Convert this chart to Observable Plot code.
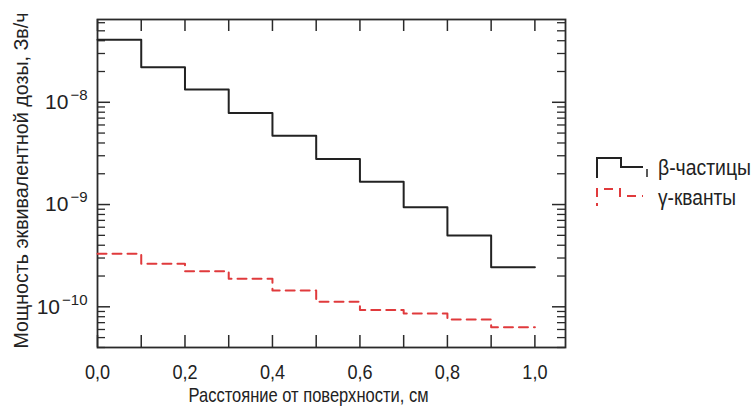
<!DOCTYPE html>
<html>
<head>
<meta charset="utf-8">
<script src="https://cdn.jsdelivr.net/npm/d3@7"></script>
<script src="https://cdn.jsdelivr.net/npm/@observablehq/plot@0.6"></script>
<style>
  html, body { margin: 0; padding: 0; background: #fff; }
</style>
</head>
<body>
<div id="chart"></div>
<script>
// Bin left edges (cm)
const distance = [0.0, 0.1, 0.2, 0.3, 0.4, 0.5, 0.6, 0.7, 0.8, 0.9];
const binEnd = 1.0;
// β-particles dose rate, Sv/h
const beta = [4.08e-8, 2.2e-8, 1.33e-8, 7.87e-9, 4.72e-9, 2.79e-9, 1.67e-9, 9.4e-10, 4.97e-10, 2.44e-10];
// γ-quanta dose rate, Sv/h
const gamma = [3.3e-10, 2.63e-10, 2.23e-10, 1.88e-10, 1.44e-10, 1.12e-10, 9.3e-11, 8.6e-11, 7.5e-11, 6.3e-11];

const xTicks = [0, 0.1, 0.2, 0.3, 0.4, 0.5, 0.6, 0.7, 0.8, 0.9, 1.0];
const xTickLabels = [0, 0.2, 0.4, 0.6, 0.8, 1.0];
const yMajor = [1e-10, 1e-9, 1e-8];
const yMinor = [4e-11,5e-11,6e-11,7e-11,8e-11,9e-11,
                2e-10,3e-10,4e-10,5e-10,6e-10,7e-10,8e-10,9e-10,
                2e-9,3e-9,4e-9,5e-9,6e-9,7e-9,8e-9,9e-9,
                2e-8,3e-8,4e-8,5e-8,6e-8];

const seriesNames = ["β-частицы", "γ-кванты"];
const xLabel = "Расстояние от поверхности, см";
const yLabel = "Мощность эквивалентной дозы, Зв/ч";

function steps(values) {
  const pts = distance.map((x, i) => ({x, y: values[i]}));
  pts.push({x: binEnd, y: values[values.length - 1]});
  return pts;
}

const FONT = "'Liberation Sans', Arial, sans-serif";
const W = 755, H = 412;
const mL = 97, mR = 190, mT = 19, mB = 65;
const fw = W - mL - mR, fh = H - mT - mB;
const majorLen = 13, minorLen = 8, xTickLen = 12;
const ink = "#2a2a2a";

const chart = Plot.plot({
  width: W, height: H,
  marginLeft: mL, marginRight: mR, marginTop: mT, marginBottom: mB,
  style: {fontFamily: FONT, background: "#fff"},
  x: {domain: [0, 1.07]},
  y: {type: "log", domain: [4e-11, 6.45e-8]},
  marks: [
    // inward ticks on all four sides
    Plot.ruleX(xTicks, {x: d => d, insetTop: fh - xTickLen, stroke: ink, strokeWidth: 1.5}),
    Plot.ruleX(xTicks, {x: d => d, insetBottom: fh - xTickLen, stroke: ink, strokeWidth: 1.5}),
    Plot.ruleY(yMajor, {y: d => d, insetRight: fw - majorLen, stroke: ink, strokeWidth: 1.5}),
    Plot.ruleY(yMajor, {y: d => d, insetLeft: fw - majorLen, stroke: ink, strokeWidth: 1.5}),
    Plot.ruleY(yMinor, {y: d => d, insetRight: fw - minorLen, stroke: ink, strokeWidth: 1.3}),
    Plot.ruleY(yMinor, {y: d => d, insetLeft: fw - minorLen, stroke: ink, strokeWidth: 1.3}),
    Plot.frame({stroke: ink, strokeWidth: 1.8}),
    Plot.axisX(xTickLabels, {
      tickSize: 0, tickPadding: 17, fontSize: 21, fill: "#222",
      tickFormat: d => d.toFixed(1).replace(".", ","), label: null
    }),
    Plot.axisY(yMajor, {
      tickSize: 0, tickPadding: 10, fontSize: 21, fill: "#222",
      tickFormat: d => "10^" + Math.round(Math.log10(d)), label: null
    }),
    Plot.line(steps(gamma), {x: "x", y: "y", curve: "step-after", stroke: "#e03a3c",
      strokeWidth: 2, strokeDasharray: "9,6"}),
    Plot.line(steps(beta), {x: "x", y: "y", curve: "step-after", stroke: "#222", strokeWidth: 2}),
    Plot.text([xLabel], {frameAnchor: "bottom", dx: -23, dy: 54, fontSize: 21, fill: "#222"}),
    Plot.text([yLabel], {frameAnchor: "left", textAnchor: "middle", rotate: -90, dx: -76, dy: -3, fontSize: 21, fill: "#222"})
  ]
});

const svg = d3.select(chart);
// superscript exponents on y tick labels
svg.selectAll('[aria-label="y-axis tick label"] text').each(function() {
  const t = d3.select(this);
  const s = t.text();
  const exp = s.split("^")[1];
  t.text("");
  t.append("tspan").text("10");
  t.append("tspan").attr("font-size", 15).attr("dy", "-0.6em").attr("dx", 2)
    .text(exp.replace("-", "\u2212"));
});

// legend
const lg = svg.append("g").attr("font-family", FONT).attr("text-anchor", "start");
lg.append("path").attr("d", "M597,178V158H621V167H643").attr("fill", "none")
  .attr("stroke", "#222").attr("stroke-width", 2);
lg.append("path").attr("d", "M647,169V177").attr("stroke", "#222").attr("stroke-width", 1.5);
lg.append("path").attr("d", "M597,206V189H620V196H643").attr("fill", "none")
  .attr("stroke", "#e03a3c").attr("stroke-width", 2).attr("stroke-dasharray", "9,6").attr("stroke-dashoffset", 6);
const lt1 = lg.append("text").attr("x", 658).attr("y", 175).attr("font-size", 22).attr("fill", "#222").text(seriesNames[0]);
const lt2 = lg.append("text").attr("x", 658).attr("y", 205).attr("font-size", 22).attr("fill", "#222").text(seriesNames[1]);

document.getElementById("chart").appendChild(chart);

// condense text to mimic the narrow typeface of the reference
function condense(sel, target) {
  sel.each(function() {
    const len = this.getComputedTextLength();
    const w = typeof target === "function" ? target(len) : target;
    if (w < len) this.setAttribute("textLength", w), this.setAttribute("lengthAdjust", "spacingAndGlyphs");
  });
}
condense(svg.selectAll('[aria-label="x-axis tick label"] text'), l => l * 0.86);
condense(svg.selectAll('[aria-label="text"] text').filter(function() { return this.textContent === xLabel; }), 240);
condense(svg.selectAll('[aria-label="text"] text').filter(function() { return this.textContent === yLabel; }), 336);
condense(lt1, 93);
condense(lt2, 78);
</script>
</body>
</html>
